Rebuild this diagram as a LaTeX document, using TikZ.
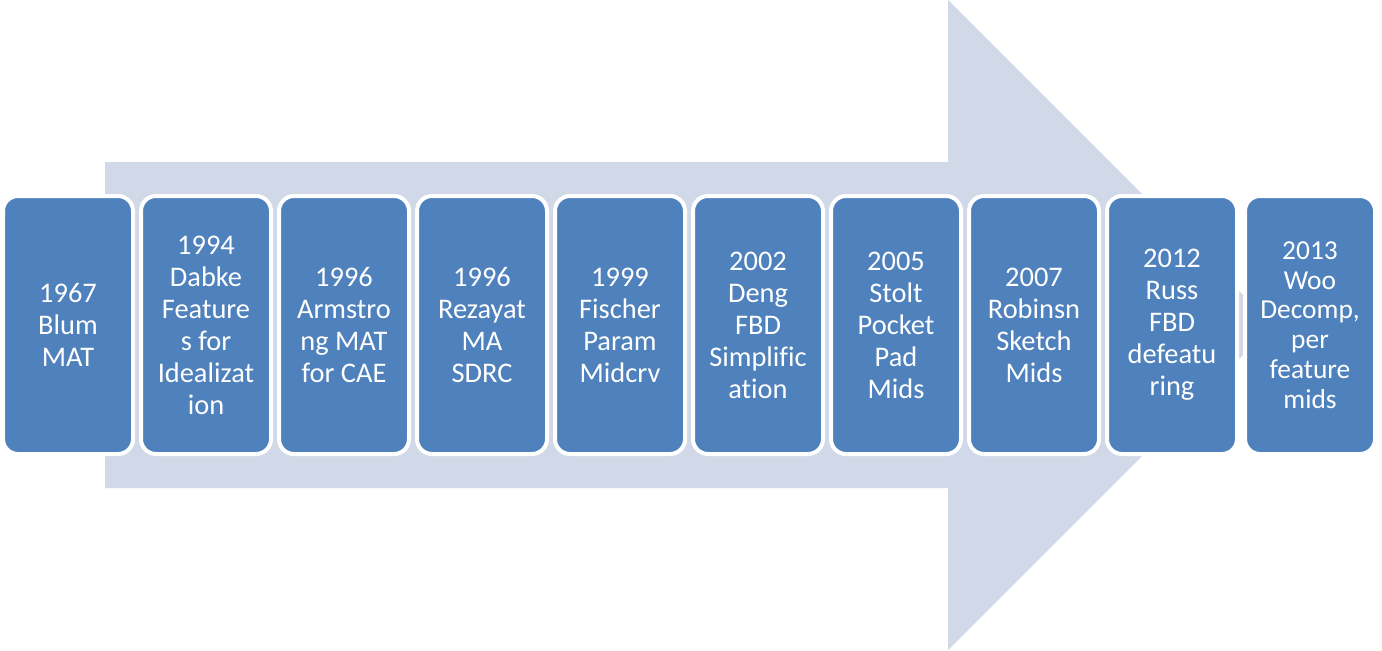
\documentclass[tikz,border=0pt]{standalone}
\usepackage{fontspec}
\setmainfont{Carlito}[Ligatures={NoCommon}]
\definecolor{arrowgrey}{HTML}{D1D8E8}
\definecolor{boxblue}{HTML}{4F81BD}

\begin{document}
\begin{tikzpicture}[
  x=0.5pt, y=0.5pt,
  yr/.style={rectangle, rounded corners=7.5pt, fill=boxblue, draw=white,
             line width=2pt, minimum width=65pt, minimum height=129pt,
             inner sep=0pt, align=center, text=white,
             font=\fontsize{14.2pt}{16pt}\selectfont},
  yrsmall/.style={yr, font=\fontsize{13.7pt}{14.9pt}\selectfont},
]
  \useasboundingbox (0,0) rectangle (1382,650);
  % big arrow behind the boxes
  \fill[arrowgrey] (105,488) -- (948,488) -- (948,650) -- (1273,325)
    -- (948,0) -- (948,162) -- (105,162) -- cycle;
  \node[yr] (b1) at (68,325) {1967\\Blum\\MAT};
  \node[yr] (b2) at (206,325) {1994\\Dabke\\Feature\\s for\\Idealizat\\ion};
  \node[yr] (b3) at (344,325) {1996\\Armstro\\ng MAT\\for CAE};
  \node[yr] (b4) at (482,325) {1996\\Rezayat\\MA\\SDRC};
  \node[yr] (b5) at (620,325) {1999\\Fischer\\Param\\Midcrv};
  \node[yr] (b6) at (758,325) {2002\\Deng\\FBD\\Simplific\\ation};
  \node[yr] (b7) at (896,325) {2005\\Stolt\\Pocket\\Pad\\Mids};
  \node[yr] (b8) at (1034,325) {2007\\Robinsn\\Sketch\\Mids};
  \node[yr] (b9) at (1172,325) {2012\\Russ\\FBD\\defeatu\\ring};
  \node[yrsmall] (b10) at (1310,325) {2013\\Woo\\Decomp,\\per\\feature\\mids};
\end{tikzpicture}
\end{document}
